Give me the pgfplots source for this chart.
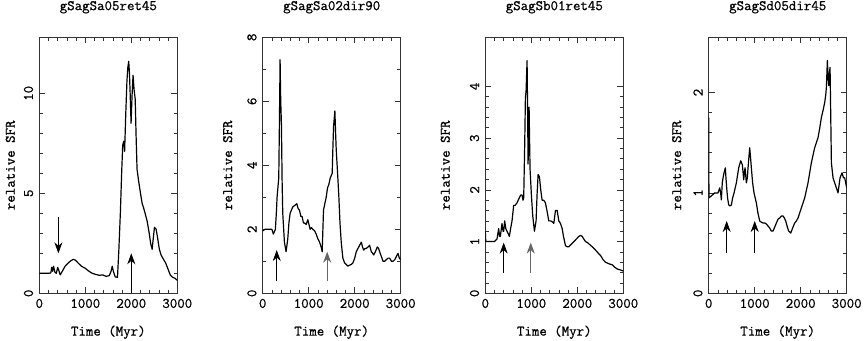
\documentclass[border=0pt]{standalone}
\usepackage{fontspec}
\usepackage{pgfplots}
\pgfplotsset{compat=1.18}
\usetikzlibrary{arrows.meta}

\newfontfamily\lblfont{Latin Modern Mono}[RawFeature={embolden=0.8}]
\newcommand{\lbl}{\lblfont\fontsize{14.5}{14.5}\selectfont}

\tikzset{
  sfrline/.style={black, line width=1.2pt, line join=round},
  arr/.style={-{Stealth[length=11pt,width=8pt]}, line width=0.8pt},
}

\pgfplotsset{
  sfr/.style={
    scale only axis, width=138pt, height=256pt,
    anchor=south west,
    xmin=0, xmax=3000,
    xtick={0,1000,2000,3000},
    minor x tick num=4,
    scaled x ticks=false,
    tick align=inside,
    xtick pos=both, ytick pos=both,
    major tick length=6pt, minor tick length=3.5pt,
    axis line style={draw=black!80, line width=0.7pt},
    tick style={draw=black!80, line width=0.7pt},
    /pgf/number format/1000 sep={},
    /pgf/number format/assume math mode=true,
    tick label style={font=\lbl},
    yticklabel style={xshift=-4pt, rotate=90, anchor=south, inner sep=2pt},
    xticklabel style={yshift=-2pt},
    label style={font=\lbl},
    xlabel style={at={(axis description cs:0.5,-0.152)}, anchor=center},
    title style={font=\lbl, at={(axis description cs:0.5,1.094)}, anchor=center},
    xlabel={Time (Myr)},
    ylabel={relative SFR},
    ymin=0,
  },
}

\begin{document}
\begin{tikzpicture}
\useasboundingbox (0,0) rectangle (864pt,340pt);

% ---- panel 1 ----
\begin{axis}[sfr, at={(39.3pt,46.7pt)},
  title={gSagSa05ret45},
  ymax=12.8, ytick={0,5,10}, minor y tick num=4,
  ylabel style={at={(axis description cs:-0.21,0.5)}, anchor=center},
]
\addplot[sfrline] coordinates {
 (0,1.0) (100,1.0) (200,1.0) (250,1.02) (270,1.3) (290,1.1) (310,1.35) (340,1.05)
 (370,1.0) (400,1.3) (430,1.1) (455,0.92) (500,1.1) (560,1.35) (620,1.5) (680,1.62)
 (740,1.7) (790,1.65) (850,1.5) (920,1.35) (1000,1.25) (1080,1.1) (1150,1.0)
 (1220,0.95) (1300,0.9) (1380,0.92) (1450,0.85) (1520,0.88) (1560,1.1) (1585,1.35)
 (1610,1.1) (1650,0.82) (1700,0.8) (1730,2.2) (1762,4.0) (1790,6.0) (1813,7.4)
 (1835,7.6) (1855,7.1) (1880,9.0) (1905,10.6) (1925,11.3) (1944,11.6) (1960,11.0)
 (1975,10.0) (1995,8.5) (2015,9.8) (2038,10.9) (2060,10.2) (2085,9.7) (2105,7.8)
 (2125,6.2) (2160,5.6) (2200,5.0) (2235,4.5) (2270,4.25) (2300,4.0) (2345,3.6)
 (2390,3.0) (2420,2.5) (2453,2.2) (2480,2.8) (2504,3.3) (2540,3.2) (2570,2.8)
 (2610,2.2) (2650,1.9) (2700,1.7) (2750,1.5) (2800,1.2) (2850,0.9) (2900,0.8)
 (2950,0.75) (3000,0.65)
};
\draw[arr] (axis cs:415,3.8) -- (axis cs:415,2.0);
\draw[arr] (axis cs:2000,0) -- (axis cs:2000,2.0);
\end{axis}

% ---- panel 2 ----
\begin{axis}[sfr, at={(262.7pt,46.7pt)},
  title={gSagSa02dir90},
  ymax=8, ytick={0,2,4,6,8}, minor y tick num=1,
  ylabel style={at={(axis description cs:-0.254,0.5)}, anchor=center},
]
\addplot[sfrline] coordinates {
 (0,1.95) (50,2.0) (100,2.0) (150,2.0) (200,2.0) (232,1.85) (276,2.0) (300,2.6)
 (312,3.0) (349,3.6) (365,5.5) (378,7.3) (392,6.0) (407,5.3) (422,3.5) (436,2.5)
 (472,1.6) (508,1.3) (545,1.7) (570,2.2) (596,2.5) (654,2.7) (700,2.75) (741,2.8)
 (770,2.65) (799,2.6) (830,2.4) (857,2.4) (885,2.2) (908,2.2) (945,2.15) (981,2.3)
 (1031,2.0) (1060,2.05) (1090,2.0) (1130,1.95) (1162,1.85) (1200,1.7) (1235,1.6)
 (1270,1.45) (1293,1.3) (1322,2.6) (1350,2.8) (1380,3.0) (1410,3.3) (1438,3.4)
 (1467,3.6) (1511,3.75) (1525,4.5) (1540,5.2) (1569,5.7) (1585,5.0) (1598,4.5)
 (1630,3.7) (1656,3.0) (1680,2.2) (1707,1.6) (1743,1.1) (1780,0.95) (1816,0.9)
 (1850,0.85) (1889,0.88) (1925,0.9) (1961,0.95) (2000,1.1) (2034,1.3) (2070,1.4)
 (2107,1.5) (2143,1.6) (2170,1.45) (2194,1.35) (2225,1.4) (2252,1.4) (2290,1.45)
 (2324,1.5) (2361,1.3) (2390,1.25) (2412,1.2) (2450,1.3) (2492,1.45) (2520,1.4)
 (2542,1.3) (2580,1.15) (2615,1.0) (2650,1.0) (2688,1.05) (2725,1.1) (2760,1.1)
 (2800,1.0) (2833,1.0) (2870,1.05) (2906,1.15) (2942,1.25) (2970,1.1) (3000,1.05)
};
\draw[arr] (axis cs:305,0.37) -- (axis cs:305,1.35);
\draw[arr, draw=black!60] (axis cs:1402,0.37) -- (axis cs:1402,1.3);
\end{axis}

% ---- panel 3 ----
\begin{axis}[sfr, at={(485.3pt,46.7pt)},
  title={gSagSb01ret45},
  ymax=4.95, ytick={0,1,2,3,4}, minor y tick num=4,
  ylabel style={at={(axis description cs:-0.29,0.5)}, anchor=center},
]
\addplot[sfrline] coordinates {
 (0,1.2) (10,1.0) (100,1.0) (200,1.0) (254,1.05) (291,1.25) (310,1.1) (327,1.1)
 (363,1.35) (385,1.2) (400,1.2) (421,1.4) (445,1.25) (472,1.2) (500,1.15) (523,1.1)
 (550,1.25) (581,1.4) (617,1.7) (650,1.7) (690,1.75) (715,1.8) (741,1.85) (770,1.9)
 (799,1.9) (820,1.8) (835,1.85) (857,2.9) (872,3.8) (886,3.9) (908,4.5) (920,3.5)
 (930,2.5) (940,3.0) (952,3.6) (962,3.0) (973,2.4) (1002,1.9) (1031,1.5) (1068,1.2)
 (1104,1.4) (1125,1.9) (1148,2.3) (1177,2.25) (1205,2.0) (1235,1.8) (1270,1.8)
 (1307,1.75) (1340,1.6) (1380,1.4) (1420,1.4) (1460,1.38) (1489,1.35) (1525,1.6)
 (1562,1.6) (1598,1.4) (1635,1.35) (1671,1.25) (1700,1.1) (1743,0.92) (1780,0.9)
 (1816,0.9) (1870,0.95) (1925,1.0) (1980,1.05) (2034,1.1) (2070,1.12) (2107,1.1)
 (2140,1.05) (2179,1.0) (2220,0.98) (2260,0.95) (2324,0.9) (2380,0.85) (2433,0.8)
 (2470,0.76) (2506,0.73) (2560,0.65) (2615,0.6) (2690,0.57) (2760,0.55) (2820,0.5)
 (2869,0.47) (2940,0.45) (3000,0.43)
};
\draw[arr] (axis cs:400,0.39) -- (axis cs:400,0.98);
\draw[arr, draw=black!60] (axis cs:988,0.39) -- (axis cs:988,0.98);
\end{axis}

% ---- panel 4 ----
\begin{axis}[sfr, at={(708.7pt,46.7pt)},
  title={gSagSd05dir45},
  ymax=2.55, ytick={0,1,2}, minor y tick num=4,
  ylabel style={at={(axis description cs:-0.232,0.5)}, anchor=center},
]
\addplot[sfrline] coordinates {
 (0,1.75) (5,0.95) (58,0.97) (130,1.0) (203,1.0) (239,1.05) (260,1.0) (275,0.93)
 (295,1.1) (312,1.15) (333,1.2) (362,1.25) (375,1.15) (391,1.05) (410,0.95) (435,0.88)
 (465,0.87) (493,0.88) (520,0.95) (551,1.0) (601,1.1) (652,1.25) (696,1.32) (732,1.28)
 (761,1.13) (775,1.2) (790,1.25) (819,1.1) (840,1.15) (855,1.25) (891,1.45) (910,1.35)
 (927,1.25) (955,1.1) (985,1.0) (1036,0.9) (1070,0.8) (1109,0.72) (1140,0.71)
 (1181,0.7) (1220,0.7) (1254,0.69) (1290,0.67) (1326,0.65) (1360,0.62) (1399,0.62)
 (1435,0.66) (1471,0.7) (1510,0.74) (1543,0.75) (1580,0.77) (1616,0.77) (1645,0.75)
 (1674,0.72) (1710,0.66) (1739,0.62) (1783,0.6) (1825,0.65) (1869,0.7) (1905,0.72)
 (1942,0.75) (1978,0.8) (2014,0.85) (2050,0.9) (2087,0.95) (2120,1.02) (2159,1.1)
 (2195,1.2) (2232,1.3) (2270,1.38) (2304,1.45) (2340,1.5) (2377,1.55) (2415,1.65)
 (2449,1.75) (2485,1.82) (2522,1.9) (2545,1.98) (2558,2.05) (2570,2.2) (2580,2.32)
 (2595,2.15) (2609,2.07) (2625,2.2) (2638,2.25) (2652,1.8) (2667,1.3) (2703,1.15)
 (2739,1.1) (2775,1.05) (2811,1.0) (2835,1.08) (2855,1.15) (2898,1.2) (2930,1.15)
 (2956,1.15) (3000,1.05)
};
\draw[arr] (axis cs:391,0.4) -- (axis cs:391,0.72);
\draw[arr] (axis cs:1000,0.4) -- (axis cs:1000,0.72);
\end{axis}
\end{tikzpicture}
\end{document}
